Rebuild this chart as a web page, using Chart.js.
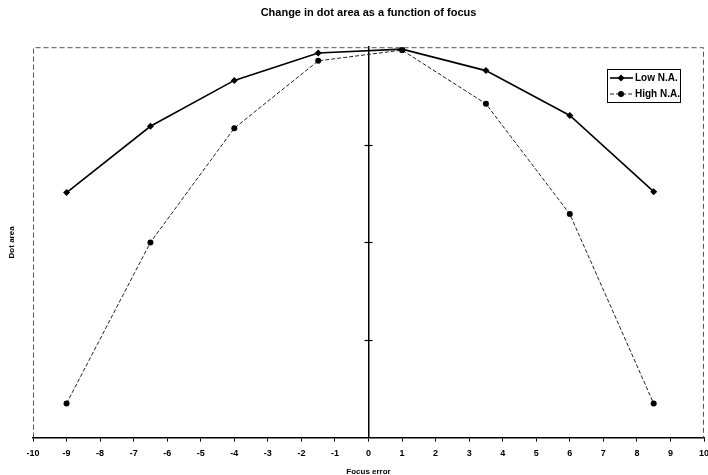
<!DOCTYPE html>
<html lang="en">
<head>
  <meta charset="UTF-8">
  <title>Change in dot area as a function of focus</title>
  <script src="https://cdn.jsdelivr.net/npm/chart.js"></script>
  <style>
    body {
      margin: 0;
      background: #fff;
    }
    #wrap {
      width: 708px;
      height: 475px;
    }
  </style>
</head>
<body>

  <div id="wrap">
    <canvas id="focusChart"></canvas>
  </div>

  <script>
    // focus error positions (x) and dot area readings
    const focusError = [-9, -6.5, -4, -1.5, 1, 3.5, 6, 8.5];
    const lowNA = [2.51, 3.19, 3.66, 3.94, 3.98, 3.76, 3.30, 2.52];
    const highNA = [0.35, 2.00, 3.17, 3.86, 3.97, 3.42, 2.29, 0.35];
    const yTicks = [1, 2, 3];
    const seriesNames = ['Low N.A.', 'High N.A.'];

    const FONT = 'Arial, "Liberation Sans", Helvetica, sans-serif';

    const toPoints = vals => vals.map((v, i) => ({ x: focusError[i], y: v }));

    // dashed frame round the plot area
    const framePlugin = {
      id: 'frame',
      beforeDatasetsDraw(chart) {
        const { ctx, chartArea: a } = chart;
        ctx.save();
        ctx.strokeStyle = '#555';
        ctx.lineWidth = 1;
        ctx.setLineDash([5, 3]);
        ctx.beginPath();
        ctx.moveTo(a.left + 0.5, a.bottom);
        ctx.lineTo(a.left + 0.5, a.top + 0.5);
        ctx.lineTo(a.right - 0.5, a.top + 0.5);
        ctx.lineTo(a.right - 0.5, a.bottom);
        ctx.stroke();
        ctx.restore();
      }
    };

    // crossing tick marks on the y axis that sits at x = 0
    const yMarksPlugin = {
      id: 'yMarks',
      afterDatasetsDraw(chart) {
        const { ctx, scales: { x, y } } = chart;
        const x0 = x.getPixelForValue(0);
        ctx.save();
        ctx.strokeStyle = '#000';
        ctx.lineWidth = 1.2;
        yTicks.forEach(v => {
          const py = Math.round(y.getPixelForValue(v)) + 0.5;
          ctx.beginPath();
          ctx.moveTo(x0 - 4, py);
          ctx.lineTo(x0 + 4, py);
          ctx.stroke();
        });
        // y title on the left side
        ctx.translate(12, (chart.chartArea.top + chart.chartArea.bottom) / 2);
        ctx.rotate(-Math.PI / 2);
        ctx.fillStyle = '#000';
        ctx.font = 'bold 8px ' + FONT;
        ctx.textAlign = 'center';
        ctx.textBaseline = 'middle';
        ctx.fillText('Dot area', 0, 0);
        ctx.restore();
      }
    };

    // boxed legend inside the plot, top right
    const boxLegendPlugin = {
      id: 'boxLegend',
      afterDraw(chart) {
        const ctx = chart.ctx;
        const bx = 607, by = 69, bw = 73, bh = 33;
        ctx.save();
        ctx.fillStyle = '#fff';
        ctx.fillRect(bx, by, bw, bh);
        ctx.strokeStyle = '#000';
        ctx.lineWidth = 1;
        ctx.setLineDash([]);
        ctx.strokeRect(bx + 0.5, by + 0.5, bw, bh);
        chart.data.datasets.forEach((ds, i) => {
          const cy = by + 9 + i * 16;
          ctx.strokeStyle = ds.borderColor;
          ctx.lineWidth = ds.borderWidth;
          ctx.setLineDash(ds.borderDash || []);
          ctx.beginPath();
          ctx.moveTo(bx + 3, cy);
          ctx.lineTo(bx + 26, cy);
          ctx.stroke();
          ctx.setLineDash([]);
          ctx.fillStyle = '#000';
          ctx.beginPath();
          if (ds.pointStyle === 'rectRot') {
            ctx.moveTo(bx + 14, cy - 3.5);
            ctx.lineTo(bx + 17.5, cy);
            ctx.lineTo(bx + 14, cy + 3.5);
            ctx.lineTo(bx + 10.5, cy);
            ctx.closePath();
          } else {
            ctx.arc(bx + 14, cy, 3, 0, Math.PI * 2);
          }
          ctx.fill();
          ctx.font = 'bold 10px ' + FONT;
          ctx.textBaseline = 'middle';
          ctx.textAlign = 'left';
          ctx.fillText(ds.label, bx + 28, cy + 0.5);
        });
        ctx.restore();
      }
    };

    new Chart(document.getElementById('focusChart'), {
      type: 'line',
      data: {
        datasets: [{
          label: seriesNames[0],
          data: toPoints(lowNA),
          borderColor: '#000',
          backgroundColor: '#000',
          borderWidth: 1.6,
          pointStyle: 'rectRot',
          pointRadius: 3.5,
          pointBackgroundColor: '#000',
          pointBorderWidth: 0
        }, {
          label: seriesNames[1],
          data: toPoints(highNA),
          borderColor: '#222',
          backgroundColor: '#000',
          borderWidth: 1,
          borderDash: [4, 2],
          pointStyle: 'circle',
          pointRadius: 3,
          pointBackgroundColor: '#000',
          pointBorderWidth: 0
        }]
      },
      options: {
        responsive: true,
        maintainAspectRatio: false,
        animation: false,
        layout: {
          padding: { left: 33, right: 0, top: 0, bottom: -2 }
        },
        plugins: {
          legend: { display: false },
          tooltip: { enabled: false },
          title: {
            display: true,
            fullSize: false,
            text: 'Change in dot area as a function of focus',
            color: '#000',
            font: { family: FONT, size: 11, weight: 'bold' },
            padding: { top: 6, bottom: 28 }
          }
        },
        scales: {
          x: {
            type: 'linear',
            min: -10,
            max: 10,
            afterFit(scale) {
              // let the last label run to the canvas edge, as in the original
              scale.paddingRight = 3;
            },
            ticks: {
              stepSize: 1,
              autoSkip: false,
              maxRotation: 0,
              color: '#000',
              padding: 7,
              font: { family: FONT, size: 9, weight: 'bold' }
            },
            grid: {
              drawOnChartArea: false,
              tickLength: 4,
              color: '#000'
            },
            border: { color: '#000', width: 1.5 },
            title: {
              display: true,
              text: 'Focus error',
              color: '#000',
              font: { family: FONT, size: 8, weight: 'bold' },
              padding: { top: 1, bottom: 0 }
            }
          },
          y: {
            position: { x: 0 },
            min: 0,
            max: 4,
            ticks: { display: false },
            grid: { display: false },
            border: { color: '#000', width: 1.5 }
          }
        }
      },
      plugins: [framePlugin, yMarksPlugin, boxLegendPlugin]
    });
  </script>

</body>
</html>
